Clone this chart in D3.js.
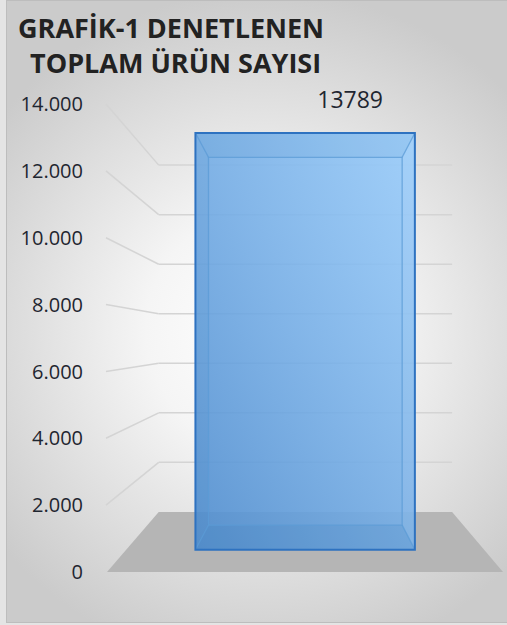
<!DOCTYPE html>
<html>
<head>
<meta charset="utf-8">
<script src="https://cdn.jsdelivr.net/npm/d3@7"></script>
<style>
  body { margin:0; background:#e4e4e4; }
  svg { display:block; font-family:"Open Sans", sans-serif; }
</style>
</head>
<body>
<svg id="chart"></svg>
<script>
// chart data
var categories = ["Denetlenen Ürün"];
var values = [13789];
var tickValues = [0, 2000, 4000, 6000, 8000, 10000, 12000, 14000];
var titleLines = ["GRAFİK-1 DENETLENEN", "TOPLAM ÜRÜN SAYISI"];

// turkish number format, 14.000
var trFormat = d3.formatLocale({decimal:",", thousands:".", grouping:[3], currency:["₺",""]}).format(",");

var screen = {width:507, height:625};

// front plane scales, the perspective squeezes them towards the back
var yScale = d3.scaleLinear().domain([0, 14000]).range([572, 104]);
var xScale = d3.scaleBand().domain(categories).range([107, 503]).padding(0.24);
var depthScale = d3.scaleLinear().domain([0, 1]).range([1, 0.741]);
var vanish = {x:306.6, y:340};

var project = function(x, y, depth)
{
    var s = depthScale(depth);
    return [vanish.x + s*(x - vanish.x), vanish.y + s*(y - vanish.y)];
}
var poly = function(pts)
{
    return "M" + pts.map(function(p){return p[0]+","+p[1];}).join("L") + "Z";
}

var svg = d3.select("#chart")
    .attr("width", screen.width)
    .attr("height", screen.height);

var defs = svg.append("defs");
var bg = defs.append("radialGradient").attr("id","bg")
    .attr("gradientUnits","userSpaceOnUse")
    .attr("cx",265).attr("cy",330).attr("r",340);
bg.append("stop").attr("offset","0").attr("stop-color","#ffffff");
bg.append("stop").attr("offset","0.35").attr("stop-color","#f5f5f5");
bg.append("stop").attr("offset","1").attr("stop-color","#cbcbcb");

var barGrad = defs.append("linearGradient").attr("id","barGrad")
    .attr("x1",0).attr("y1",1).attr("x2",1).attr("y2",0);
barGrad.append("stop").attr("offset","0").attr("stop-color","#4f8dcf");
barGrad.append("stop").attr("offset","0.5").attr("stop-color","#76aee6");
barGrad.append("stop").attr("offset","1").attr("stop-color","#9bcefc");

// chart area
svg.append("rect")
    .attr("x",6.5).attr("y",0.5)
    .attr("width",510).attr("height",622)
    .attr("fill","url(#bg)")
    .attr("stroke","#bdbdbd");

var grid = svg.append("g").attr("class","grid");

// back wall gridlines
grid.selectAll("line.back")
    .data(tickValues.filter(function(d){return d > 0;}))
    .enter()
    .append("line")
    .attr("class","back")
    .attr("x1",function(d){return project(xScale.range()[0], yScale(d), 1)[0];})
    .attr("y1",function(d){return project(xScale.range()[0], yScale(d), 1)[1];})
    .attr("x2",function(d){return project(xScale.range()[1], yScale(d), 1)[0];})
    .attr("y2",function(d){return project(xScale.range()[1], yScale(d), 1)[1];})
    .attr("stroke","#d4d4d4")
    .attr("stroke-width",1.5);

// side wall gridlines
grid.selectAll("line.side")
    .data(tickValues.filter(function(d){return d > 0;}))
    .enter()
    .append("line")
    .attr("class","side")
    .attr("x1",function(d){return project(xScale.range()[0] - 1, yScale(d), 0)[0];})
    .attr("y1",function(d){return project(xScale.range()[0] - 1, yScale(d), 0)[1];})
    .attr("x2",function(d){return project(xScale.range()[0], yScale(d), 1)[0];})
    .attr("y2",function(d){return project(xScale.range()[0], yScale(d), 1)[1];})
    .attr("stroke","#d4d4d4")
    .attr("stroke-width",1.5);

// floor
var x0 = xScale.range()[0], x1 = xScale.range()[1], y0 = yScale(0);
svg.append("path")
    .attr("d", poly([project(x0,y0,0), project(x1,y0,0), project(x1,y0,1), project(x0,y0,1)]))
    .attr("fill","#b5b5b5");

// y labels
svg.append("g").selectAll("text")
    .data(tickValues)
    .enter()
    .append("text")
    .attr("x",83)
    .attr("y",function(d){return yScale(d);})
    .attr("dy","0.36em")
    .attr("text-anchor","end")
    .attr("font-size",20)
    .attr("fill","#1f2630")
    .text(function(d){return trFormat(d);});

// 3d bar, a see-through box
var bars = svg.append("g").selectAll("g")
    .data(values)
    .enter()
    .append("g");

bars.each(function(v, i)
{
    var g = d3.select(this);
    var L = xScale(categories[i]), R = L + xScale.bandwidth();
    var B = yScale(0), T = yScale(v);
    var dF = 0.37, dB = 0.78;
    var f = {lt:project(L,T,dF), rt:project(R,T,dF), rb:project(R,B,dF), lb:project(L,B,dF)};
    var b = {lt:project(L,T,dB), rt:project(R,T,dB), rb:project(R,B,dB), lb:project(L,B,dB)};

    g.append("path")
        .attr("d", poly([f.lt,f.rt,f.rb,f.lb]))
        .attr("fill","url(#barGrad)")
        .attr("fill-opacity",0.9);
    // faces between front and back rectangle
    g.append("path").attr("d", poly([f.lb,f.rb,b.rb,b.lb]))
        .attr("fill","#2e6fb0").attr("fill-opacity",0.14);
    g.append("path").attr("d", poly([f.lt,f.rt,b.rt,b.lt]))
        .attr("fill","#2e6fb0").attr("fill-opacity",0.07);
    g.append("path").attr("d", poly([f.lt,b.lt,b.lb,f.lb]))
        .attr("fill","#2e6fb0").attr("fill-opacity",0.07);
    g.append("path").attr("d", poly([f.rt,b.rt,b.rb,f.rb]))
        .attr("fill","#ffffff").attr("fill-opacity",0.05);

    // inner edges
    g.append("path").attr("d", poly([b.lt,b.rt,b.rb,b.lb]))
        .attr("fill","none").attr("stroke","#5b9bd5").attr("stroke-opacity",0.75).attr("stroke-width",1.3);
    ["lt","rt","rb","lb"].forEach(function(k)
    {
        g.append("line")
            .attr("x1",f[k][0]).attr("y1",f[k][1])
            .attr("x2",b[k][0]).attr("y2",b[k][1])
            .attr("stroke","#5b9bd5").attr("stroke-opacity",0.75).attr("stroke-width",1.3);
    });
    g.append("path").attr("d", poly([f.lt,f.rt,f.rb,f.lb]))
        .attr("fill","none").attr("stroke","#2e72c0").attr("stroke-width",2);

    // value label
    g.append("text")
        .attr("x",(f.lt[0] + f.rt[0])/2 + 45)
        .attr("y",f.lt[1] - 25)
        .attr("text-anchor","middle")
        .attr("font-size",23)
        .attr("fill","#1f2630")
        .text(v);
});

// title
svg.append("g").selectAll("text")
    .data(titleLines)
    .enter()
    .append("text")
    .attr("x",function(d,i){return i == 0 ? 18 : 30;})
    .attr("y",function(d,i){return 38 + i*35;})
    .attr("font-size",27)
    .attr("font-weight","bold")
    .attr("fill","#222222")
    .text(function(d){return d;});
</script>
</body>
</html>
